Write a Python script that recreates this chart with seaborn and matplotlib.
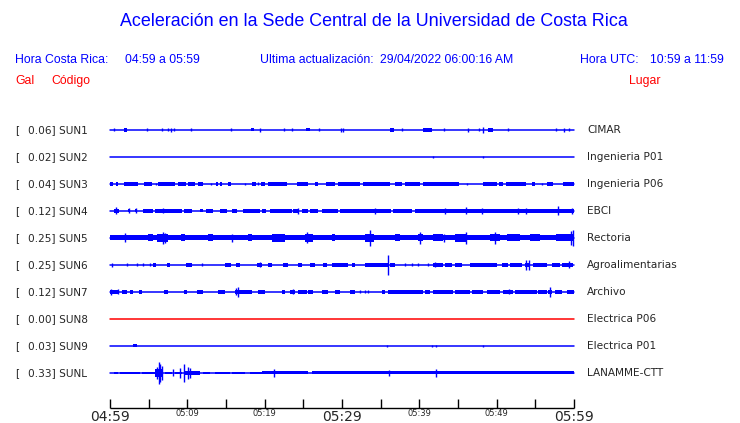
import matplotlib
matplotlib.use("Agg")
import matplotlib.pyplot as plt
import pandas as pd
import seaborn as sns

# station info
codes = ["SUN1", "SUN2", "SUN3", "SUN4", "SUN5", "SUN6", "SUN7", "SUN8", "SUN9", "SUNL"]
gal = ["0.06", "0.02", "0.04", "0.12", "0.25", "0.25", "0.12", "0.00", "0.03", "0.33"]
places = ["CIMAR", "Ingenieria P01", "Ingenieria P06", "EBCI", "Rectoria",
          "Agroalimentarias", "Archivo", "Electrica P06", "Electrica P01", "LANAMME-CTT"]
tick_minutes = list(range(0, 61, 5))
tick_labels = {0: "04:59", 10: "05:09", 20: "05:19", 30: "05:29", 40: "05:39", 50: "05:49", 60: "05:59"}

# envelopes: (start min, end min, half height px) and (min, half height px)
sun1_segs = [(1.8, 2.2, 1.8), (18.2, 18.6, 1.5), (25.3, 25.9, 1.5), (36.2, 36.7, 1.8),
             (40.5, 41.6, 2.0), (48.9, 49.5, 1.8)]
sun1_spikes = [(0.5, 1.5), (4.8, 1.5), (6.7, 1.5), (7.5, 1.5), (7.9, 2), (8.3, 1.5), (10.5, 1.5),
               (15.6, 1.5), (19.4, 2), (22.5, 1.5), (23.5, 1.5), (27.0, 1.5), (29.9, 2), (30.1, 2),
               (37.8, 1.5), (43.2, 1.5), (46.3, 2), (47.7, 1.5), (48.2, 3), (51.5, 1.5),
               (57.7, 1.5), (58.7, 2), (59.4, 1.5)]

sun2_segs = []
sun2_spikes = [(41.8, 1.2), (48.2, 0.8)]

sun3_segs = [(0.0, 0.4, 1.8), (0.8, 1.0, 1.8), (1.8, 3.6, 1.8), (4.4, 5.4, 1.8), (6.2, 8.4, 1.8),
             (8.8, 9.8, 1.8), (10.1, 11.0, 1.8), (11.4, 12.0, 1.8), (13.7, 14.0, 1.8),
             (14.2, 14.5, 1.8), (15.3, 15.6, 1.8), (18.4, 18.9, 1.8), (19.5, 20.0, 1.8),
             (20.4, 22.9, 1.8), (24.2, 25.6, 1.8), (26.5, 26.9, 1.8), (27.9, 29.1, 1.8),
             (29.5, 32.3, 1.8), (32.7, 36.2, 1.8), (36.9, 37.8, 1.8), (38.1, 40.1, 1.8),
             (40.5, 45.1, 1.8), (48.2, 50.0, 1.8), (50.3, 50.8, 1.8), (51.2, 53.8, 1.8),
             (54.6, 55.0, 1.8), (56.5, 57.3, 1.8), (58.6, 60.0, 1.8)]
sun3_spikes = [(5.9, 1.2), (13.1, 1.2), (17.4, 1.2), (19.2, 1.5), (46.2, 1.2), (55.9, 1.2)]

sun4_segs = [(0.5, 1.2, 2.0), (2.3, 2.6, 1.5), (3.2, 3.5, 1.5), (4.3, 5.6, 1.8), (5.8, 9.3, 1.8),
             (9.6, 10.6, 1.8), (11.6, 12.0, 1.5), (12.4, 13.3, 1.8), (14.2, 15.1, 1.8),
             (15.8, 16.4, 1.8), (17.2, 19.4, 1.8), (19.7, 20.2, 1.8), (20.7, 23.5, 1.8),
             (23.7, 24.3, 1.8), (24.8, 25.6, 1.8), (25.9, 26.9, 1.8), (27.4, 29.5, 1.8),
             (29.7, 36.3, 1.8), (36.6, 39.0, 1.8), (39.5, 60.0, 1.8)]
sun4_spikes = [(0.8, 3.5), (2.4, 2.5), (3.3, 2.5), (6.8, 2.5), (24.3, 3), (34.3, 3), (43.3, 3),
               (46.0, 3.5), (48.1, 3), (52.8, 3), (53.8, 3), (57.9, 4.5), (59.7, 3)]

sun5_segs = [(0.0, 60.0, 2.5), (4.9, 5.6, 3.5), (6.1, 7.5, 4.0), (9.2, 9.7, 3.5), (12.7, 13.3, 3.5),
             (17.8, 18.4, 3.5), (20.9, 22.6, 3.8), (25.2, 26.3, 3.8), (28.7, 29.1, 3.5),
             (33.0, 34.1, 4.0), (36.9, 37.5, 3.5), (39.8, 40.5, 3.5), (41.8, 43.1, 3.5),
             (44.6, 46.2, 4.0), (49.1, 50.4, 3.5), (51.3, 53.0, 3.5), (54.3, 55.6, 3.5),
             (57.7, 60.0, 3.5)]
sun5_spikes = [(1.9, 4.5), (6.9, 6), (7.1, 5), (15.8, 4), (25.5, 5.5), (33.6, 8), (40.1, 6),
               (43.2, 4), (46.0, 6), (49.8, 6), (59.6, 7), (59.9, 8)]

sun6_segs = [(5.6, 6.0, 1.8), (7.4, 7.8, 1.8), (9.8, 10.6, 1.8), (14.9, 15.6, 1.8), (16.3, 16.8, 1.8),
             (19.0, 19.7, 1.8), (20.4, 20.9, 1.8), (22.4, 23.0, 1.8), (24.3, 24.8, 1.8),
             (25.9, 26.5, 1.8), (27.5, 28.1, 1.8), (28.7, 30.8, 1.8), (31.3, 31.7, 1.8),
             (33.0, 35.9, 1.8), (36.2, 36.9, 1.8), (41.8, 43.1, 1.8), (43.3, 44.2, 1.8),
             (44.6, 45.5, 1.8), (46.6, 50.0, 1.8), (50.7, 51.5, 1.8), (51.7, 53.3, 1.8),
             (53.7, 54.3, 1.8), (54.7, 56.5, 1.8), (57.2, 58.2, 1.8), (58.4, 59.9, 1.8)]
sun6_spikes = [(0.2, 2), (2.2, 1.5), (3.5, 1.5), (4.3, 1.5), (5.2, 1.5), (11.9, 1.5), (19.4, 2.5),
               (38.1, 1.5), (39.0, 1.5), (39.8, 1.5), (41.1, 1.5), (42.0, 2.5),
               (35.9, 10), (53.8, 5), (54.2, 5), (59.4, 3.5)]

sun7_segs = [(0.0, 1.0, 1.8), (1.6, 2.2, 1.8), (2.6, 3.0, 1.8), (3.8, 4.1, 1.8), (7.0, 7.5, 1.8),
             (9.6, 10.0, 1.8), (11.3, 12.0, 1.8), (14.0, 14.9, 1.8), (16.2, 18.4, 2.2),
             (19.1, 20.0, 1.8), (22.2, 22.6, 1.8), (23.3, 23.9, 1.8), (24.3, 25.5, 1.8),
             (25.6, 26.3, 1.8), (27.4, 28.2, 1.8), (29.1, 29.7, 1.8), (31.0, 31.7, 1.8),
             (35.2, 35.6, 1.8), (35.9, 40.5, 1.8), (40.7, 41.4, 1.8), (41.8, 44.4, 1.8),
             (44.6, 46.6, 1.8), (46.8, 48.2, 1.8), (48.8, 50.4, 1.8), (50.8, 52.1, 1.8),
             (52.4, 55.2, 1.8), (55.3, 56.5, 1.8), (56.6, 57.2, 1.8), (57.5, 58.4, 1.8),
             (59.1, 60.0, 1.8)]
sun7_spikes = [(0.1, 3), (1.0, 2.5), (16.3, 3.5), (16.6, 5), (23.7, 2.5), (32.3, 1.5), (33.0, 1.5),
               (33.4, 1.5), (51.6, 2.5), (56.9, 5)]

sun8_segs = []
sun8_spikes = []

sun9_segs = [(3.0, 3.5, 1.5)]
sun9_spikes = [(35.8, 1.0), (41.6, 1.2), (42.2, 1.2), (48.2, 1.2)]

sunl_segs = [(0.5, 1.0, 1.2), (1.3, 3.9, 1.3), (4.1, 5.8, 1.3), (5.8, 6.9, 4.0), (7.1, 8.0, 1.3),
             (8.4, 9.3, 1.3), (9.7, 11.6, 1.6), (12.0, 12.9, 1.3), (13.6, 15.5, 1.2),
             (15.8, 17.5, 1.2), (18.1, 19.7, 1.3), (19.7, 25.6, 1.5), (26.1, 30.4, 1.5),
             (30.4, 60.0, 1.5)]
sunl_spikes = [(6.1, 6), (6.3, 11), (6.5, 9), (6.7, 7), (8.1, 3.5), (9.1, 5), (9.6, 9),
               (10.1, 6), (10.3, 5), (21.2, 4), (36.1, 3), (42.2, 4)]

all_segs = [sun1_segs, sun2_segs, sun3_segs, sun4_segs, sun5_segs,
            sun6_segs, sun7_segs, sun8_segs, sun9_segs, sunl_segs]
all_spikes = [sun1_spikes, sun2_spikes, sun3_spikes, sun4_spikes, sun5_spikes,
              sun6_spikes, sun7_spikes, sun8_spikes, sun9_spikes, sunl_spikes]

W, H = 740, 423
X0, X1 = 110, 574           # pixel span of the hour
PPM = (X1 - X0) / 60.0      # pixels per minute
BLUE = "#0000ff"
RED = "#ff0000"

sns.set_style("white")
plt.rcParams["font.family"] = ["DejaVu Sans"]

fig = plt.figure(figsize=(W / 100, H / 100), dpi=100)
ax = fig.add_axes([0, 0, 1, 1])


def fpos(x, y):
    return x / W, 1 - y / H


rows = [130 + 27 * i for i in range(len(codes))]

# baselines through seaborn
base = pd.DataFrame({
    "t": [0, 60] * len(codes),
    "y": [r for r in rows for _ in range(2)],
    "code": [c for c in codes for _ in range(2)],
})
pal = {c: (RED if c == "SUN8" else BLUE) for c in codes}
sns.lineplot(data=base, x="t", y="y", hue="code", units="code", estimator=None,
             palette=pal, lw=1.1, legend=False, ax=ax)
ax.set_xlim(-X0 / PPM, (W - X0) / PPM)
ax.set_ylim(H, 0)
ax.axis("off")

for y0, segs, spikes, c in zip(rows, all_segs, all_spikes, codes):
    col = pal[c]
    for t0, t1, h in segs:
        ax.fill_between([t0, t1], y0 - h, y0 + h, color=col, lw=0)
    if spikes:
        ts = [s[0] for s in spikes]
        hs = [s[1] for s in spikes]
        ax.vlines(ts, [y0 - h for h in hs], [y0 + h for h in hs], color=col, lw=1.0)

# labels
for y0, g, c, p in zip(rows, gal, codes, places):
    fig.text(*fpos(15, y0), "[", fontsize=7.6, va="center", ha="left")
    fig.text(*fpos(28, y0), f"{g}] {c}", fontsize=7.6, va="center", ha="left")
    fig.text(*fpos(587, y0), p, fontsize=7.6, va="center", ha="left")

# time axis
ax.hlines(408, 0, 60, color="black", lw=1.0)
ax.vlines(tick_minutes, 399, 408, color="black", lw=1.0)
for m, lab in tick_labels.items():
    big = m in (0, 30, 60)
    ax.text(m, 417 if big else 413, lab, fontsize=10 if big else 6, ha="center", va="center")

# headers
hf = "Liberation Sans"
fig.text(*fpos(374, 21), "Aceleración en la Sede Central de la Universidad de Costa Rica",
         fontsize=12.9, color=BLUE, ha="center", va="center", family=hf)
hs_ = 8.8
fig.text(*fpos(15, 60), "Hora Costa Rica:", fontsize=hs_, color=BLUE, va="center", family=hf)
fig.text(*fpos(125, 60), "04:59 a 05:59", fontsize=hs_, color=BLUE, va="center", family=hf)
fig.text(*fpos(260, 60), "Ultima actualización:", fontsize=hs_, color=BLUE, va="center", family=hf)
fig.text(*fpos(380, 60), "29/04/2022 06:00:16 AM", fontsize=hs_, color=BLUE, va="center", family=hf)
fig.text(*fpos(580, 60), "Hora UTC:", fontsize=hs_, color=BLUE, va="center", family=hf)
fig.text(*fpos(650, 60), "10:59 a 11:59", fontsize=hs_, color=BLUE, va="center", family=hf)
fig.text(*fpos(15, 81), "Gal", fontsize=hs_, color=RED, va="center", family=hf)
fig.text(*fpos(51, 81), "Código", fontsize=hs_, color=RED, va="center", family=hf)
fig.text(*fpos(629, 81), "Lugar", fontsize=hs_, color=RED, va="center", family=hf)

fig.savefig("out.png", dpi=100, facecolor="white")
